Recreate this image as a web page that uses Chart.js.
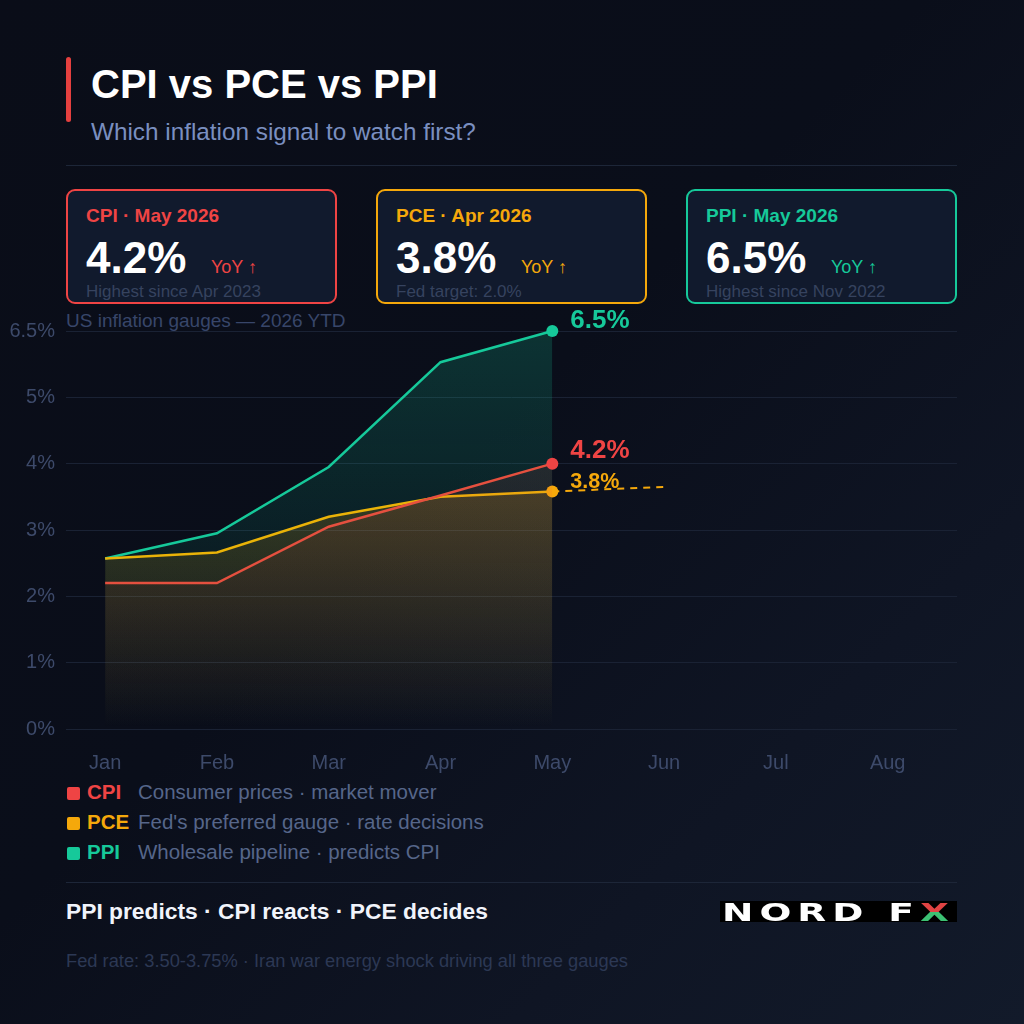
<!DOCTYPE html>
<html>
<head>
<meta charset="utf-8">
<script src="https://cdn.jsdelivr.net/npm/chart.js@4.4.1/dist/chart.umd.min.js"></script>
<style>
  html, body { margin: 0; padding: 0; }
  body {
    width: 1024px; height: 1024px; position: relative; overflow: hidden;
    background: linear-gradient(135deg, #0a0d18 0%, #0a0e1a 45%, #0f1524 75%, #121a2a 100%);
    font-family: 'Liberation Sans', Arial, sans-serif;
  }
  .t { position: absolute; line-height: 1; white-space: nowrap; }
  .card {
    position: absolute; top: 189px; width: 271px; height: 115px; box-sizing: border-box;
    border: 2px solid; border-radius: 9px; background: #111a2d;
  }
  .hr { position: absolute; left: 66px; width: 891px; height: 1px; background: #1d2638; }
  #chartBox { position: absolute; left: 0; top: 300px; width: 1024px; height: 473px; }
  .sq { position: absolute; left: 67px; width: 13px; height: 13px; border-radius: 2px; }
  #logo {
    position: absolute; left: 720px; top: 901px; width: 237px; height: 21px; background: #000;
    overflow: hidden;
  }
  #logo div {
    position: absolute; left: 2px; top: -1.5px; line-height: 1; white-space: nowrap;
    font-family: 'DejaVu Sans'; font-weight: bold; font-size: 25px; letter-spacing: 4px;
    color: #fff; transform: scaleX(1.5); transform-origin: left top;
  }
</style>
</head>
<body>
<div style="position:absolute;left:66px;top:57px;width:5px;height:65px;border-radius:3px;background:#e5403f"></div>
<div class="t" style="left:91px;top:64px;font-size:40px;font-weight:bold;color:#ffffff">CPI vs PCE vs PPI</div>
<div class="t" style="left:91px;top:119.5px;font-size:24.3px;color:#7a8fc0">Which inflation signal to watch first?</div>
<div class="hr" style="top:165px"></div>

<div id="cards"></div>

<div class="t" style="left:66px;top:311px;font-size:19px;color:#38466a">US inflation gauges — 2026 YTD</div>

<div id="chartBox"><canvas id="chart"></canvas></div>

<div id="legend"></div>

<div class="hr" style="top:882px"></div>
<div class="t" style="left:66px;top:899.7px;font-size:22.8px;font-weight:bold;color:#f1f4fb">PPI predicts · CPI reacts · PCE decides</div>
<div id="logo"><div>NORD F<span style="background:linear-gradient(to bottom,#e04343 50%,#3cc173 50%);-webkit-background-clip:text;background-clip:text;color:transparent">X</span></div></div>
<div class="t" style="left:66px;top:951.5px;font-size:18.3px;color:#2c3854">Fed rate: 3.50-3.75% · Iran war energy shock driving all three gauges</div>

<script>
// data (axis units)
const months = ['Jan', 'Feb', 'Mar', 'Apr', 'May', 'Jun', 'Jul', 'Aug'];
const cpi = [2.2, 2.2, 3.05, 3.52, 4.0];
const pce = [2.57, 2.66, 3.2, 3.5, 3.58];
const ppi = [2.57, 2.95, 3.95, 5.53, 6.0];
const pceTrend = [3.58, 3.65];           // May -> Jun, dashed
const yTicks = [0, 1, 2, 3, 4, 5, 6];
const yTickLabels = ['0%', '1%', '2%', '3%', '4%', '5%', '6.5%'];

// cards / legend text
const names = ['CPI', 'PCE', 'PPI'];
const periods = ['May 2026', 'Apr 2026', 'May 2026'];
const latest = ['4.2%', '3.8%', '6.5%'];
const notes = ['Highest since Apr 2023', 'Fed target: 2.0%', 'Highest since Nov 2022'];
const descs = ['Consumer prices · market mover', "Fed's preferred gauge · rate decisions", 'Wholesale pipeline · predicts CPI'];

const RED = '#ef4444';
const AMBER = '#f5a80b';
const TEAL = '#16c99a';
const colors = [RED, AMBER, TEAL];
const TICK = '#3d4a6a';
const GRID = '#1a2234';

// cards
const cardsEl = document.getElementById('cards');
names.forEach((n, i) => {
  const left = 66 + i * 310;
  cardsEl.insertAdjacentHTML('beforeend',
    `<div class="card" style="left:${left}px;border-color:${colors[i]}"></div>
     <div class="t" style="left:${left + 20}px;top:206px;font-size:19px;font-weight:bold;color:${colors[i]}">${n} · ${periods[i]}</div>
     <div class="t" style="left:${left + 20}px;top:235.8px;font-size:44px;font-weight:bold;color:#fff">${latest[i]}</div>
     <div class="t" style="left:${left + 145}px;top:257.8px;font-size:18px;color:${colors[i]}">YoY ↑</div>
     <div class="t" style="left:${left + 20}px;top:282.6px;font-size:17px;color:#36435f">${notes[i]}</div>`);
});

// legend
const legendEl = document.getElementById('legend');
names.forEach((n, i) => {
  const base = 799 + i * 30;
  legendEl.insertAdjacentHTML('beforeend',
    `<div class="sq" style="top:${base - 12}px;background:${colors[i]}"></div>
     <div class="t" style="left:87px;top:${base - 17.1}px;font-size:20.5px;font-weight:bold;color:${colors[i]}">${n}</div>
     <div class="t" style="left:138px;top:${base - 17.1}px;font-size:20.5px;color:#56668a">${descs[i]}</div>`);
});

Chart.defaults.font.family = "'Liberation Sans', Arial, sans-serif";

const toPts = (arr, start = 0) => arr.map((y, i) => ({ x: start + i, y }));

const fade = (rgb, a0, a1) => (ctx) => {
  const area = ctx.chart.chartArea;
  if (!area) return 'transparent';
  const g = ctx.chart.ctx.createLinearGradient(0, area.top, 0, area.bottom);
  g.addColorStop(0, `rgba(${rgb},${a0})`);
  g.addColorStop(1, `rgba(${rgb},${a1})`);
  return g;
};

const lastOnly = (n) => (ctx) => (ctx.dataIndex === n - 1 ? 6 : 0);

const endLabels = {
  id: 'endLabels',
  afterDatasetsDraw(chart) {
    const { ctx } = chart;
    const cfg = [
      { ds: 0, size: 26, dy: -6 },
      { ds: 1, size: 21.5, dy: -4 },
      { ds: 2, size: 26, dy: -3 }
    ];
    ctx.save();
    cfg.forEach(c => {
      const pts = chart.getDatasetMeta(c.ds).data;
      const p = pts[pts.length - 1];
      ctx.font = `bold ${c.size}px 'Liberation Sans', Arial, sans-serif`;
      ctx.fillStyle = colors[c.ds];
      ctx.textAlign = 'left';
      ctx.textBaseline = 'alphabetic';
      ctx.fillText(latest[c.ds], p.x + 18, p.y + c.dy);
    });
    ctx.restore();
  }
};

new Chart(document.getElementById('chart'), {
  type: 'line',
  data: {
    datasets: [
      {
        label: 'CPI', data: toPts(cpi), borderColor: '#e5503f', borderWidth: 2.5,
        fill: 'origin', backgroundColor: fade('239,68,68', 0.16, 0.0),
        pointRadius: lastOnly(cpi.length), pointBackgroundColor: RED, pointBorderWidth: 0,
        tension: 0, clip: false
      },
      {
        label: 'PCE', data: toPts(pce), borderColor: '#eab308', borderWidth: 2.5,
        fill: 'origin', backgroundColor: fade('245,168,11', 0.3, 0.0),
        pointRadius: lastOnly(pce.length), pointBackgroundColor: AMBER, pointBorderWidth: 0,
        tension: 0, clip: false
      },
      {
        label: 'PPI', data: toPts(ppi), borderColor: TEAL, borderWidth: 2.5,
        fill: 'origin', backgroundColor: fade('22,201,154', 0.2, 0.0),
        pointRadius: lastOnly(ppi.length), pointBackgroundColor: TEAL, pointBorderWidth: 0,
        tension: 0, clip: false
      },
      {
        label: 'PCE trend', data: toPts(pceTrend, 4), borderColor: AMBER, borderWidth: 2,
        borderDash: [7, 6], fill: false, pointRadius: 0
      }
    ]
  },
  options: {
    responsive: true,
    maintainAspectRatio: false,
    animation: false,
    layout: { padding: { top: 31, right: 67, left: 0, bottom: 0 } },
    plugins: { legend: { display: false }, tooltip: { enabled: false } },
    scales: {
      x: {
        type: 'linear', min: -0.35, max: 7.62,
        afterBuildTicks: (s) => { s.ticks = months.map((_, i) => ({ value: i })); },
        afterFit: (s) => { s.height = 44; },
        grid: { display: false, drawTicks: false },
        border: { display: false },
        ticks: { color: TICK, font: { size: 20 }, padding: 22, callback: (v) => months[v] }
      },
      y: {
        min: 0, max: 6,
        afterBuildTicks: (s) => { s.ticks = yTicks.map(v => ({ value: v })); },
        afterFit: (s) => { s.width = 66; },
        grid: { color: GRID, lineWidth: 1, drawTicks: false },
        border: { display: false },
        ticks: { color: TICK, font: { size: 20 }, padding: 11, callback: (v) => yTickLabels[yTicks.indexOf(v)] }
      }
    }
  },
  plugins: [endLabels]
});
</script>
</body>
</html>
